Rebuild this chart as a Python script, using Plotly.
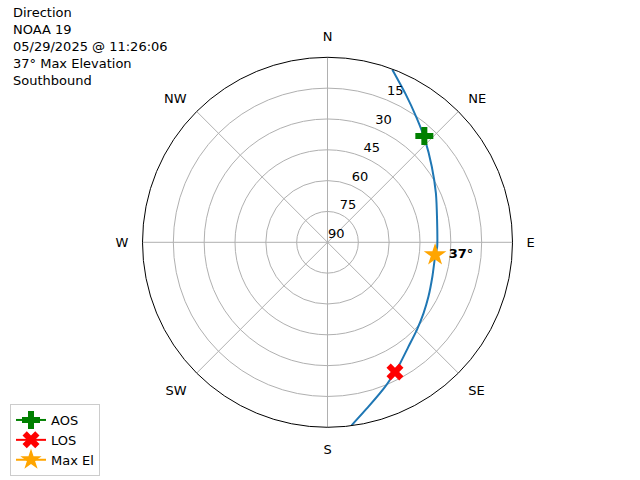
import math
import plotly.graph_objects as go

# Pass track (azimuth deg clockwise from N, elevation deg)
track_az = [20.6, 27.5, 35.7, 43.6, 54.0, 65.6, 78.5, 92.3, 97.6, 108.2, 118.4, 126.5, 134.5, 142.3, 149.1, 152.5, 158.3, 166.1, 172.5]
track_el = [0.3, 8.2, 15.6, 21.2, 27.3, 32.1, 35.6, 36.6, 37.2, 36.3, 34.2, 31.9, 29.1, 25.7, 21.3, 18.9, 14.3, 7.5, 0.2]

aos_az, aos_el = [42.3], [20.0]
los_az, los_el = [152.5], [18.9]
max_az, max_el = [96.7], [37.3]

dir_vals = [0, 45, 90, 135, 180, 225, 270, 315]
dir_text = ["N", "NE", "E", "SE", "S", "SW", "W", "NW"]
elev_ticks = [0, 15, 30, 45, 60, 75]
elev_text = ["90", "75", "60", "45", "30", "15"]

title_lines = ["Direction", "NOAA 19", "05/29/2025 @ 11:26:06", "37° Max Elevation", "Southbound"]

W, H = 640, 480
cx, cy, R = 327.5, 242.3, 185
PX_PER_UNIT = R / 90.0
LABEL_ANGLE, LABEL_ALONG_PX, LABEL_PERP_PX = 22.5, 10.5, 5.2


def r_of(el):
    return [90 - e for e in el]


# radial tick-label placement (matplotlib style: along the 22.5 deg line, nudged outward)
lab_r, lab_t = [], []
for t in elev_ticks:
    a = t * PX_PER_UNIT + LABEL_ALONG_PX
    lab_r.append(math.hypot(a, LABEL_PERP_PX) / PX_PER_UNIT)
    lab_t.append(LABEL_ANGLE + math.degrees(math.atan2(LABEL_PERP_PX, a)))

fig = go.Figure()
fig.add_trace(go.Scatterpolar(theta=track_az, r=r_of(track_el), mode="lines",
                              line=dict(color="#1f77b4", width=2, shape="spline", smoothing=0.5),
                              showlegend=False, hoverinfo="skip"))
fig.add_trace(go.Scatterpolar(theta=aos_az, r=r_of(aos_el), mode="lines+markers", name="AOS",
                              line=dict(color="green", width=2),
                              marker=dict(symbol="cross", size=15, color="green")))
fig.add_trace(go.Scatterpolar(theta=los_az, r=r_of(los_el), mode="lines+markers", name="LOS",
                              line=dict(color="red", width=2),
                              marker=dict(symbol="x", size=15, color="red")))
fig.add_trace(go.Scatterpolar(theta=max_az, r=r_of(max_el), mode="lines+markers", name="Max El",
                              line=dict(color="orange", width=2),
                              marker=dict(symbol="star", size=17, color="orange")))
fig.add_trace(go.Scatterpolar(theta=max_az, r=r_of(max_el), mode="text",
                              text=["<b>\u00a0\u00a0\u00a037°</b>"], textposition="middle right",
                              textfont=dict(size=13, color="black"), showlegend=False,
                              hoverinfo="skip"))
fig.add_trace(go.Scatterpolar(theta=lab_t, r=lab_r, mode="text", text=elev_text,
                              textposition="middle center",
                              textfont=dict(size=13, color="black"), showlegend=False,
                              hoverinfo="skip", cliponaxis=False))

fig.update_layout(
    width=W, height=H,
    margin=dict(l=0, r=0, t=0, b=0),
    paper_bgcolor="white",
    font=dict(family="DejaVu Sans", size=13, color="black"),
    polar=dict(
        domain=dict(x=[(cx - R) / W, (cx + R) / W], y=[1 - (cy + R) / H, 1 - (cy - R) / H]),
        bgcolor="white",
        angularaxis=dict(direction="clockwise", rotation=90, tickmode="array",
                         tickvals=dir_vals, ticktext=dir_text,
                         showline=True, linecolor="black", linewidth=1,
                         gridcolor="#b0b0b0", gridwidth=1,
                         ticks="outside", ticklen=11, tickcolor="rgba(0,0,0,0)",
                         tickfont=dict(size=13)),
        radialaxis=dict(range=[0, 90], tickmode="array", tickvals=elev_ticks, ticktext=elev_text,
                        angle=67.5, showticklabels=False, showline=False, ticks="",
                        gridcolor="#b0b0b0", gridwidth=1),
    ),
    legend=dict(x=10 / W, y=1 - 404 / H, xanchor="left", yanchor="top",
                bordercolor="#cccccc", borderwidth=1, bgcolor="white",
                font=dict(size=13), tracegroupgap=0),
    annotations=[dict(x=11 / W, y=1 - 3 / H, xref="paper", yref="paper", xanchor="left",
                      yanchor="top", align="left", showarrow=False,
                      text="<br>".join(title_lines), font=dict(size=13))],
)
fig.write_html("out.html", config={"displayModeBar": False},
               post_script="document.body.style.margin='0px';")
